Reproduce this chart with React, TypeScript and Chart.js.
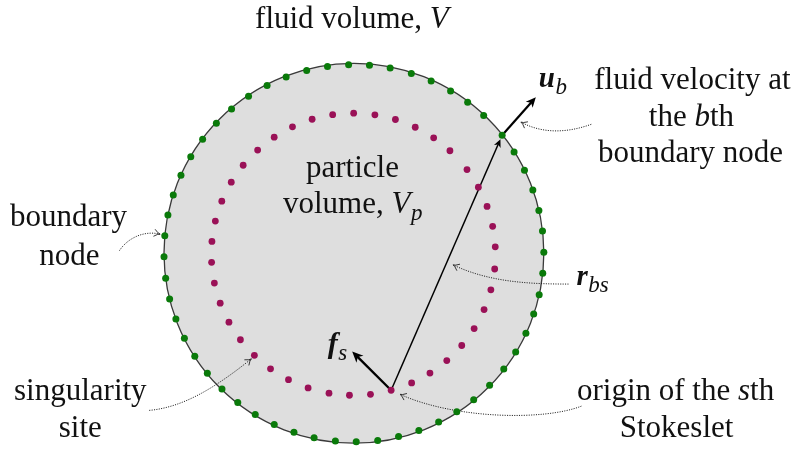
import React, { useEffect, useRef } from "react";
import { Chart, registerables } from "chart.js";

Chart.register(...registerables);

// ---- Data ----
// Angles (degrees, counter-clockwise from +x) of the boundary nodes on the fluid-volume circle
const boundaryNodeAnglesDeg = [
  0.3, 6.8, 13.1, 19.6, 26.1, 32.5, 38.7, 46.9, 53.2, 59.4, 66.0, 72.4, 79.0, 85.3,
  91.6, 98.0, 104.4, 110.9, 117.2, 123.7, 130.1, 136.4, 142.8, 149.2, 155.6, 162.0,
  168.3, 174.7, 181.1, 187.6, 194.0, 200.4, 206.8, 213.1, 219.5, 226.0, 232.3, 238.7,
  245.2, 251.6, 257.9, 264.4, 270.7, 277.2, 283.6, 290.0, 296.5, 302.8, 309.1, 315.6,
  322.1, 328.4, 334.9, 341.2, 347.3, 353.9,
];
// Angles (degrees) of the singularity sites on the inner circle
const singularityAnglesDeg = [
  3.0, 11.4, 19.8, 28.4, 36.9, 47.2, 55.6, 64.2, 72.8, 81.3, 89.9, 98.4, 106.9, 115.4,
  123.9, 132.4, 140.9, 149.3, 157.9, 166.4, 174.8, 183.3, 191.8, 200.3, 208.8, 217.3,
  225.8, 234.3, 242.8, 251.4, 260.1, 268.4, 276.9, 285.4, 294.2, 302.6, 311.1, 319.7,
  328.2, 336.9, 345.4, 354.0,
];
const selectedBoundaryIndex = 6; // the b-th boundary node
const selectedSiteIndex = 33; // the s-th Stokeslet origin
const velocityVector = [34, -38.6]; // u_b (screen units, y down)
const forceVector = [-39.3, -39.4]; // f_s

// ---- Layout (plot units = pixels) ----
const OUTER = { cx: 353.5, cy: 253.7, r: 191.6 };
const INNER = { cx: 353.0, cy: 254.7, r: 143.3 };
const GREEN = "#0a7a0a";
const PURPLE = "#9a1157";
const FILL = "#dedede";
const FONT = '"Liberation Serif", "Times New Roman", serif';
const MAIN = 31;
const SUB = 23;

type Run = { t: string; s?: "" | "i" | "bi"; sub?: boolean; size?: number };
type Label = { runs: Run[]; x: number; y: number; align: "center" | "left" };

const labels: Label[] = [
  { runs: [{ t: "fluid volume, " }, { t: "V", s: "i" }], x: 351.5, y: 25, align: "center" },
  { runs: [{ t: "particle" }], x: 352, y: 176.5, align: "center" },
  { runs: [{ t: "volume, " }, { t: "V", s: "i" }, { t: "p", s: "i", sub: true }], x: 352, y: 212.5, align: "center" },
  { runs: [{ t: "u", s: "bi", size: 29 }, { t: "b", s: "i", sub: true }], x: 540, y: 85, align: "left" },
  { runs: [{ t: "fluid velocity at" }], x: 695, y: 87, align: "center" },
  { runs: [{ t: "the " }, { t: "b", s: "i" }, { t: "th" }], x: 694, y: 124, align: "center" },
  { runs: [{ t: "boundary node" }], x: 693, y: 160.5, align: "center" },
  { runs: [{ t: "boundary" }], x: 65.5, y: 226.5, align: "center" },
  { runs: [{ t: "node" }], x: 66.5, y: 265.5, align: "center" },
  { runs: [{ t: "r", s: "bi", size: 29 }, { t: "bs", s: "i", sub: true }], x: 578, y: 286, align: "left" },
  { runs: [{ t: "f", s: "bi", size: 30 }, { t: "s", s: "i", sub: true }], x: 327, y: 355.5, align: "left" },
  { runs: [{ t: "singularity" }], x: 77.5, y: 402.5, align: "center" },
  { runs: [{ t: "site" }], x: 77.5, y: 440.5, align: "center" },
  { runs: [{ t: "origin of the " }, { t: "s", s: "i" }, { t: "th" }], x: 678, y: 402.5, align: "center" },
  { runs: [{ t: "Stokeslet" }], x: 679, y: 440.5, align: "center" },
];

// dotted leader curves: cubic beziers [p0, c1, c2, p3], arrow at p3
const leaders: number[][][] = [
  [[593, 122.7], [570, 131], [545, 133], [522, 120.5]],
  [[117, 251], [124, 240], [140, 230], [158, 234.3]],
  [[570, 285], [530, 285], [490, 283], [453.5, 265.5]],
  [[147, 413.3], [185, 410], [220, 385], [250, 361]],
  [[583, 409], [545, 424], [455, 422], [400, 397]],
];

function fontOf(r: Run) {
  const size = r.size ?? (r.sub ? SUB : MAIN);
  const st = r.s === "bi" ? "italic bold " : r.s === "i" ? "italic " : "";
  return `${st}${size}px ${FONT}`;
}

export default function App() {
  const ref = useRef<HTMLCanvasElement>(null);

  useEffect(() => {
    const canvas = ref.current;
    if (!canvas) return;
    const rad = (a: number) => (a * Math.PI) / 180;
    const boundaryPts = boundaryNodeAnglesDeg.map((a) => ({
      x: OUTER.cx + OUTER.r * Math.cos(rad(a)),
      y: OUTER.cy - OUTER.r * Math.sin(rad(a)),
    }));
    const sitePts = singularityAnglesDeg.map((a) => ({
      x: INNER.cx + INNER.r * Math.cos(rad(a)),
      y: INNER.cy - INNER.r * Math.sin(rad(a)),
    }));
    const nodeB = boundaryPts[selectedBoundaryIndex];
    const siteS = sitePts[selectedSiteIndex];

    const diagram = {
      id: "diagram",
      beforeDatasetsDraw(chart: any) {
        const ctx: CanvasRenderingContext2D = chart.ctx;
        const xs = chart.scales.x;
        const ys = chart.scales.y;
        const X = (v: number) => xs.getPixelForValue(v);
        const Y = (v: number) => ys.getPixelForValue(v);
        ctx.save();
        // disk
        const R = X(OUTER.cx + OUTER.r) - X(OUTER.cx);
        ctx.beginPath();
        ctx.arc(X(OUTER.cx), Y(OUTER.cy), R, 0, Math.PI * 2);
        ctx.fillStyle = FILL;
        ctx.fill();
        ctx.lineWidth = 1.3;
        ctx.strokeStyle = "#3a3a3a";
        ctx.stroke();

        // leaders
        for (const L of leaders) {
          const [p0, c1, c2, p3] = L;
          ctx.beginPath();
          ctx.moveTo(X(p0[0]), Y(p0[1]));
          ctx.bezierCurveTo(X(c1[0]), Y(c1[1]), X(c2[0]), Y(c2[1]), X(p3[0]), Y(p3[1]));
          ctx.setLineDash([1.1, 1.3]);
          ctx.lineWidth = 1;
          ctx.strokeStyle = "#222";
          ctx.stroke();
          ctx.setLineDash([]);
          const dx = X(p3[0]) - X(c2[0]);
          const dy = Y(p3[1]) - Y(c2[1]);
          const len = Math.hypot(dx, dy);
          const ux = dx / len, uy = dy / len;
          const al = 6, aw = 3.6;
          const tx = X(p3[0]), ty = Y(p3[1]);
          ctx.beginPath();
          ctx.moveTo(tx - al * ux - aw * uy, ty - al * uy + aw * ux);
          ctx.quadraticCurveTo(tx - 2 * ux, ty - 2 * uy, tx, ty);
          ctx.quadraticCurveTo(tx - 2 * ux, ty - 2 * uy, tx - al * ux + aw * uy, ty - al * uy - aw * ux);
          ctx.lineWidth = 0.9;
          ctx.strokeStyle = "#222";
          ctx.stroke();
        }

        // solid arrows
        const arrow = (x0: number, y0: number, x1: number, y1: number, lw: number, al: number, aw: number, trim: number) => {
          const ax = X(x0), ay = Y(y0);
          let bx = X(x1), by = Y(y1);
          const dx = bx - ax, dy = by - ay;
          const len = Math.hypot(dx, dy);
          const ux = dx / len, uy = dy / len;
          bx -= ux * trim;
          by -= uy * trim;
          ctx.beginPath();
          ctx.moveTo(ax, ay);
          ctx.lineTo(bx - ux * al * 0.6, by - uy * al * 0.6);
          ctx.lineWidth = lw;
          ctx.strokeStyle = "#000";
          ctx.lineCap = "butt";
          ctx.stroke();
          ctx.beginPath();
          ctx.moveTo(bx, by);
          ctx.lineTo(bx - ux * al - uy * aw, by - uy * al + ux * aw);
          ctx.lineTo(bx - ux * al * 0.72, by - uy * al * 0.72);
          ctx.lineTo(bx - ux * al + uy * aw, by - uy * al - ux * aw);
          ctx.closePath();
          ctx.fillStyle = "#000";
          ctx.fill();
        };
        arrow(siteS.x, siteS.y, nodeB.x, nodeB.y, 1.5, 8, 3.6, 4.2);
        arrow(nodeB.x, nodeB.y, nodeB.x + velocityVector[0], nodeB.y + velocityVector[1], 2.2, 10, 4.6, 0);
        arrow(siteS.x, siteS.y, siteS.x + forceVector[0], siteS.y + forceVector[1], 2.4, 11, 5, 0);
        ctx.restore();
      },
      afterDatasetsDraw(chart: any) {
        const ctx: CanvasRenderingContext2D = chart.ctx;
        const xs = chart.scales.x;
        const ys = chart.scales.y;
        ctx.save();
        ctx.fillStyle = "#111";
        ctx.textBaseline = "alphabetic";
        ctx.textAlign = "left";
        for (const lb of labels) {
          let total = 0;
          const widths = lb.runs.map((r) => {
            ctx.font = fontOf(r);
            const w = ctx.measureText(r.t).width;
            total += w;
            return w;
          });
          let x = xs.getPixelForValue(lb.x) - (lb.align === "center" ? total / 2 : 0);
          const y = ys.getPixelForValue(lb.y);
          lb.runs.forEach((r, i) => {
            ctx.font = fontOf(r);
            ctx.fillText(r.t, x + (r.sub ? 0.5 : 0), y + (r.sub ? 7 : 0));
            x += widths[i];
          });
        }
        ctx.restore();
      },
    };

    const chart = new Chart(canvas, {
      type: "scatter",
      data: {
        datasets: [
          {
            label: "singularity sites",
            data: sitePts,
            pointRadius: 3.4,
            pointHoverRadius: 3.4,
            pointBackgroundColor: PURPLE,
            pointBorderWidth: 0,
          },
          {
            label: "boundary nodes",
            data: boundaryPts,
            pointRadius: 3.5,
            pointHoverRadius: 3.5,
            pointBackgroundColor: GREEN,
            pointBorderWidth: 0,
          },
        ],
      },
      options: {
        responsive: false,
        devicePixelRatio: 1,
        animation: false,
        events: [],
        layout: { padding: 0 },
        scales: {
          x: { type: "linear", min: 0, max: 800, display: false },
          y: { type: "linear", min: 0, max: 450, reverse: true, display: false },
        },
        plugins: { legend: { display: false }, tooltip: { enabled: false } },
      },
      plugins: [diagram],
    });
    return () => chart.destroy();
  }, []);

  return (
    <div style={{ position: "absolute", left: 0, top: 0, width: 800, height: 450, background: "#fff" }}>
      <canvas ref={ref} width={800} height={450} style={{ display: "block" }} />
    </div>
  );
}
